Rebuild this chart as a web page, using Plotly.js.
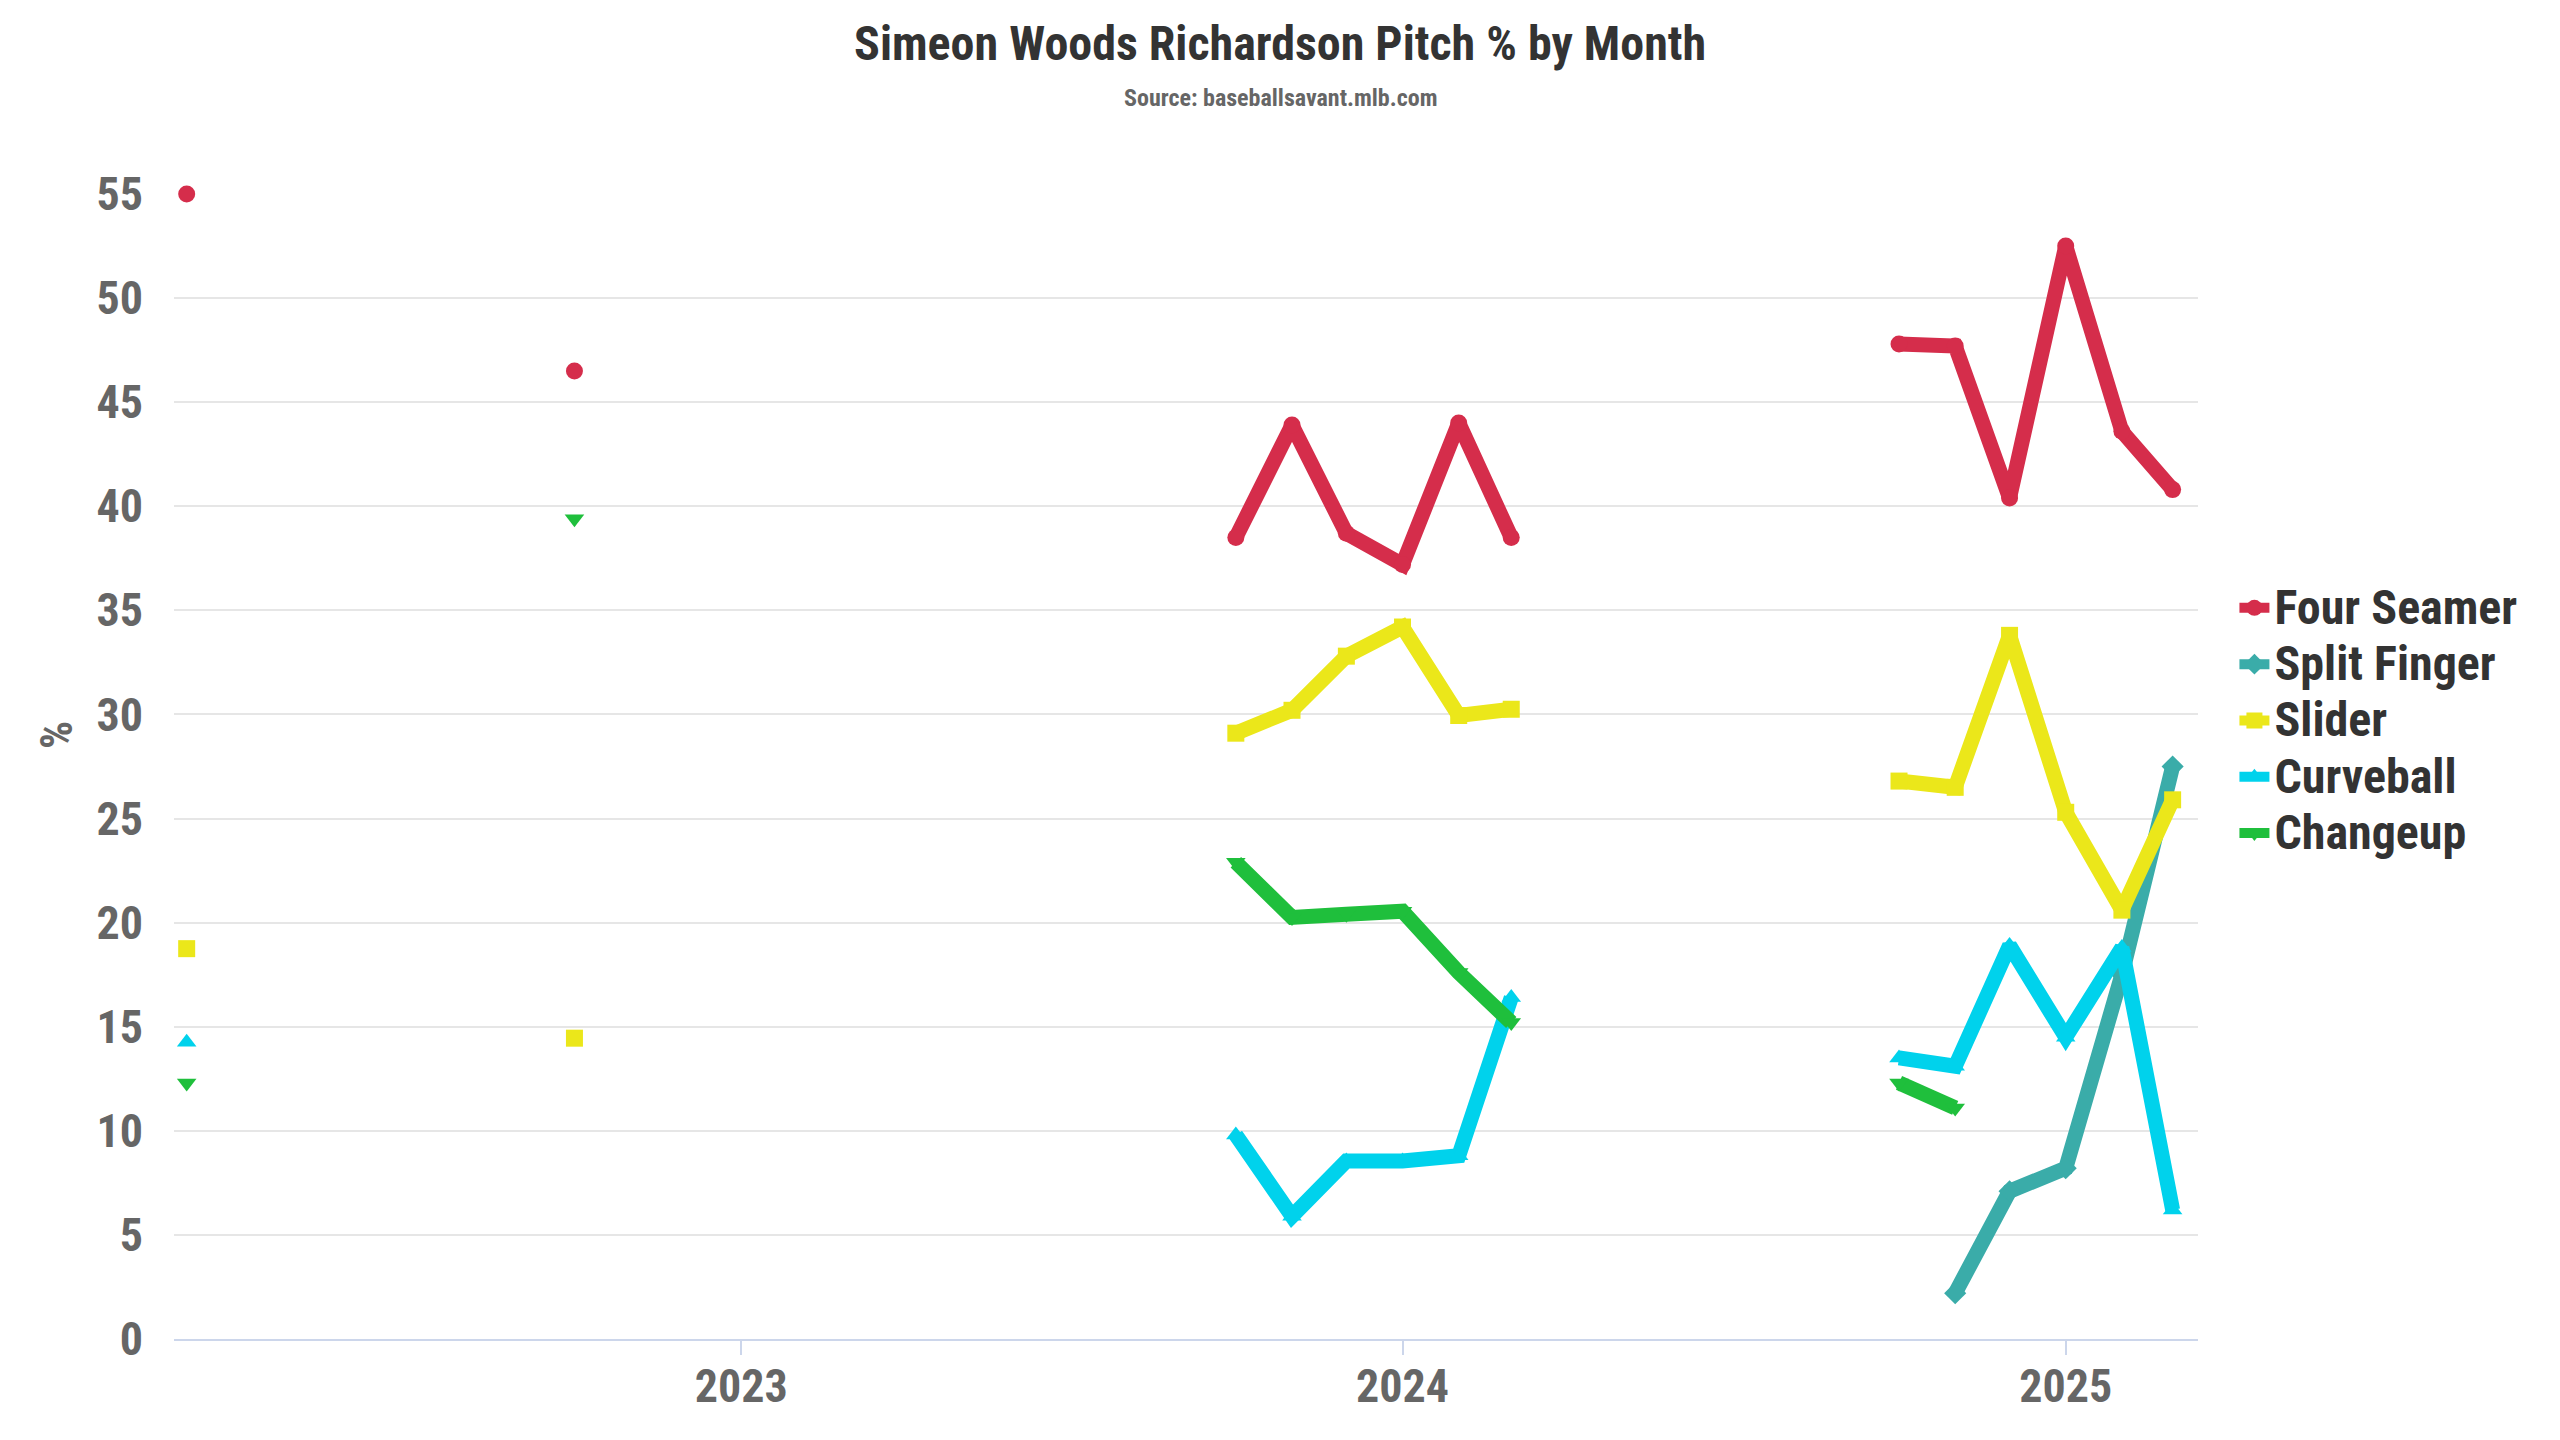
<!DOCTYPE html>
<html>
<head>
<meta charset="utf-8">
<script src="https://cdn.plot.ly/plotly-3.0.1.min.js"></script>
<style>
  html, body { margin: 0; padding: 0; background: #ffffff; }
  #chart { width: 2560px; height: 1440px; }
</style>
</head>
<body>
<div id="chart"></div>
<script>
// ---- Data ----
const months = ['2022-03-01','2022-10-01','2023-10-01','2023-11-01','2023-12-01','2024-01-01','2024-02-01','2024-03-01','2024-10-01','2024-11-01','2024-12-01','2025-01-01','2025-02-01','2025-03-01'];
const fourSeamer  = [55.0, 46.5, 38.5, 43.9, 38.7, 37.2, 44.0, 38.5, 47.8, 47.7, 40.4, 52.5, 43.6, 40.8];
const splitFinger = [null, null, null, null, null, null, null, null, null, 2.2, 7.1, 8.2, 17.5, 27.5];
const slider      = [18.75, 14.45, 29.1, 30.2, 32.8, 34.2, 29.95, 30.25, 26.8, 26.5, 33.8, 25.3, 20.6, 25.9];
const curveball   = [14.25, null, 9.8, 5.9, 8.55, 8.55, 8.8, 16.4, 13.5, 13.1, 18.9, 14.5, 18.8, 6.2];
const changeup    = [12.3, 39.4, 22.9, 20.25, 20.4, 20.55, 17.6, 15.2, 12.3, 11.1, null, null, null, null];

const seriesNames = ['Four Seamer','Split Finger','Slider','Curveball','Changeup'];
const seriesData  = [fourSeamer, splitFinger, slider, curveball, changeup];
const colors  = ['#D52D4B','#3AACA9','#EBE71A','#00D2EC','#1FBF3C'];
const symbols = ['circle','diamond','square','triangle-up','triangle-down'];

// Insert a null break between months that are not consecutive
function withGaps(xs, ys) {
  const ox = [], oy = [];
  for (let i = 0; i < xs.length; i++) {
    if (i > 0) {
      const a = new Date(xs[i-1]), b = new Date(xs[i]);
      const diff = (b.getUTCFullYear() - a.getUTCFullYear()) * 12 + (b.getUTCMonth() - a.getUTCMonth());
      if (diff > 1) {
        const mid = new Date((a.getTime() + b.getTime()) / 2).toISOString().slice(0,10);
        ox.push(mid); oy.push(null);
      }
    }
    ox.push(xs[i]); oy.push(ys[i]);
  }
  return {x: ox, y: oy};
}

const FONT = "'Liberation Sans Narrow', 'Roboto Condensed', 'DejaVu Sans Condensed', Roboto, sans-serif";

const traces = seriesNames.map((name, i) => {
  const d = withGaps(months, seriesData[i]);
  return {
    type: 'scatter',
    mode: 'lines+markers',
    name: '<span style="font-size:48px">' + name + '</span>',
    x: d.x,
    y: d.y,
    connectgaps: false,
    cliponaxis: false,
    line: {color: colors[i], width: 15},
    marker: {color: colors[i], symbol: symbols[i], size: 17},
    hovertemplate: name + ': %{y}<extra></extra>'
  };
});

const layout = {
  width: 2560,
  height: 1440,
  paper_bgcolor: '#ffffff',
  plot_bgcolor: '#ffffff',
  margin: {l: 174, r: 362, t: 194, b: 101, pad: 0},
  font: {family: FONT, color: '#666666', size: 46, weight: 'bold'},
  showlegend: true,
  legend: {
    x: 1.018, xanchor: 'left',
    y: 0.54, yanchor: 'middle',
    font: {family: FONT, size: 41, color: '#333333', weight: 'bold'},
    itemwidth: 30,
    tracegroupgap: 0,
    bgcolor: 'rgba(0,0,0,0)'
  },
  xaxis: {
    type: 'date',
    range: ['2022-02-22', '2025-03-15'],
    tick0: '2023-01-01',
    dtick: 'M12',
    tickformat: '%Y',
    showgrid: false,
    zeroline: false,
    showline: true,
    linecolor: '#ccd6eb',
    linewidth: 2,
    ticks: 'outside',
    ticklen: 14,
    tickwidth: 2,
    tickcolor: '#ccd6eb',
    ticklabelstandoff: -8,
    tickfont: {family: FONT, size: 46, color: '#666666', weight: 'bold'}
  },
  yaxis: {
    range: [0, 55],
    dtick: 5,
    tick0: 0,
    showgrid: true,
    gridcolor: '#e6e6e6',
    gridwidth: 2,
    zeroline: false,
    showline: false,
    ticks: '',
    ticklabelstandoff: 30,
    tickfont: {family: FONT, size: 46, color: '#666666', weight: 'bold'}
  },
  annotations: [
    {
      text: 'Simeon Woods Richardson Pitch % by Month',
      xref: 'paper', yref: 'paper',
      x: (1280 - 174) / 2024, y: 1 + (194 - 44) / 1145,
      xanchor: 'center', yanchor: 'middle',
      showarrow: false,
      font: {family: FONT, size: 48, color: '#333333', weight: 'bold'}
    },
    {
      text: 'Source: baseballsavant.mlb.com',
      xref: 'paper', yref: 'paper',
      x: (1280 - 174) / 2024, y: 1 + (194 - 98) / 1145,
      xanchor: 'center', yanchor: 'middle',
      showarrow: false,
      font: {family: FONT, size: 24, color: '#666666', weight: 'bold'}
    },
    {
      text: '%',
      xref: 'paper', yref: 'paper',
      x: (57 - 174) / 2024, y: (1339 - 735) / 1145,
      xanchor: 'center', yanchor: 'middle',
      textangle: -90,
      showarrow: false,
      font: {family: FONT, size: 44, color: '#666666', weight: 'bold'}
    }
  ]
};

Plotly.newPlot('chart', traces, layout, {displayModeBar: false});
</script>
</body>
</html>
